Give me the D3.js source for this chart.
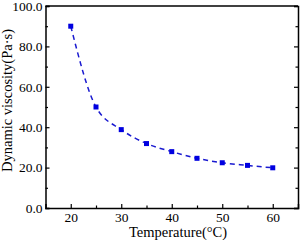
<!DOCTYPE html>
<html><head><meta charset="utf-8">
<script src="https://cdn.jsdelivr.net/npm/d3@7"></script>
<style>body{margin:0;background:#fff}svg{display:block}text{font-family:"Liberation Serif","Times New Roman",serif}</style>
</head><body><div id="c"></div>
<script>
const temperatures = [20, 25, 30, 35, 40, 45, 50, 55, 60];
const viscosity = [90.0, 50.0, 38.8, 31.9, 27.9, 24.6, 22.4, 21.1, 19.9];
const xTicks = [20, 30, 40, 50, 60];
const yTicks = [0, 20, 40, 60, 80, 100];

const W = 300, H = 240;
const m = {l: 45.5, r: 2, t: 6, b: 32};
const svg = d3.select("#c").append("svg").attr("width", W).attr("height", H);
const x = d3.scaleLinear().domain([15, 65]).range([m.l, W - m.r]);
const y = d3.scaleLinear().domain([0, 100]).range([H - m.b, m.t]);

const tickLen = 4, minorLen = 2.5;
svg.append("g").attr("transform", `translate(0,${H - m.b})`)
  .call(d3.axisBottom(x).tickValues(xTicks).tickSize(-tickLen).tickPadding(4).tickFormat(d3.format("d")));
svg.append("g").attr("transform", `translate(0,${H - m.b})`)
  .call(d3.axisBottom(x).tickValues([25,35,45,55]).tickSize(-minorLen).tickFormat(""))
  .call(g => g.select(".domain").remove());
svg.append("g").attr("transform", `translate(${m.l},0)`)
  .call(d3.axisLeft(y).tickValues(yTicks).tickSize(-tickLen).tickPadding(3).tickFormat(d3.format(".1f")));
svg.append("g").attr("transform", `translate(${m.l},0)`)
  .call(d3.axisLeft(y).tickValues([10,30,50,70,90]).tickSize(-minorLen).tickFormat(""))
  .call(g => g.select(".domain").remove());
svg.append("g").attr("transform", `translate(${W - m.r},0)`)
  .call(d3.axisRight(y).tickValues(yTicks).tickSize(-tickLen).tickFormat(""));
svg.append("g").attr("transform", `translate(${W - m.r},0)`)
  .call(d3.axisRight(y).tickValues([10,30,50,70,90]).tickSize(-minorLen).tickFormat(""))
  .call(g => g.select(".domain").remove());
svg.append("line").attr("x1", m.l).attr("x2", W - m.r).attr("y1", m.t).attr("y2", m.t)
  .attr("stroke", "#000").attr("stroke-width", 1.5);

svg.selectAll(".domain").attr("stroke-width", 1.5);
svg.selectAll(".tick line").attr("stroke-width", 1.2);
svg.selectAll(".tick text").attr("font-size", 13.5).attr("fill", "#000");

const line = d3.line().x((d,i) => x(temperatures[i])).y(d => y(d)).curve(d3.curveMonotoneX);
svg.append("path").datum(viscosity).attr("d", line).attr("fill", "none")
  .attr("stroke", "#1a1ad0").attr("stroke-width", 1.5).attr("stroke-dasharray", "5,4");
svg.selectAll(".pt").data(viscosity).enter().append("rect")
  .attr("x", (d,i) => x(temperatures[i]) - 2.5).attr("y", d => y(d) - 2.5)
  .attr("width", 5).attr("height", 5).attr("fill", "#0000e0");

svg.append("text").attr("x", 178).attr("y", 237).attr("text-anchor", "middle")
  .attr("font-size", 14.5).text("Temperature(°C)");
svg.append("text").attr("transform", "translate(12,100.5) rotate(-90)").attr("text-anchor", "middle")
  .attr("font-size", 14.5).text("Dynamic viscosity(Pa·s)");
</script></body></html>
